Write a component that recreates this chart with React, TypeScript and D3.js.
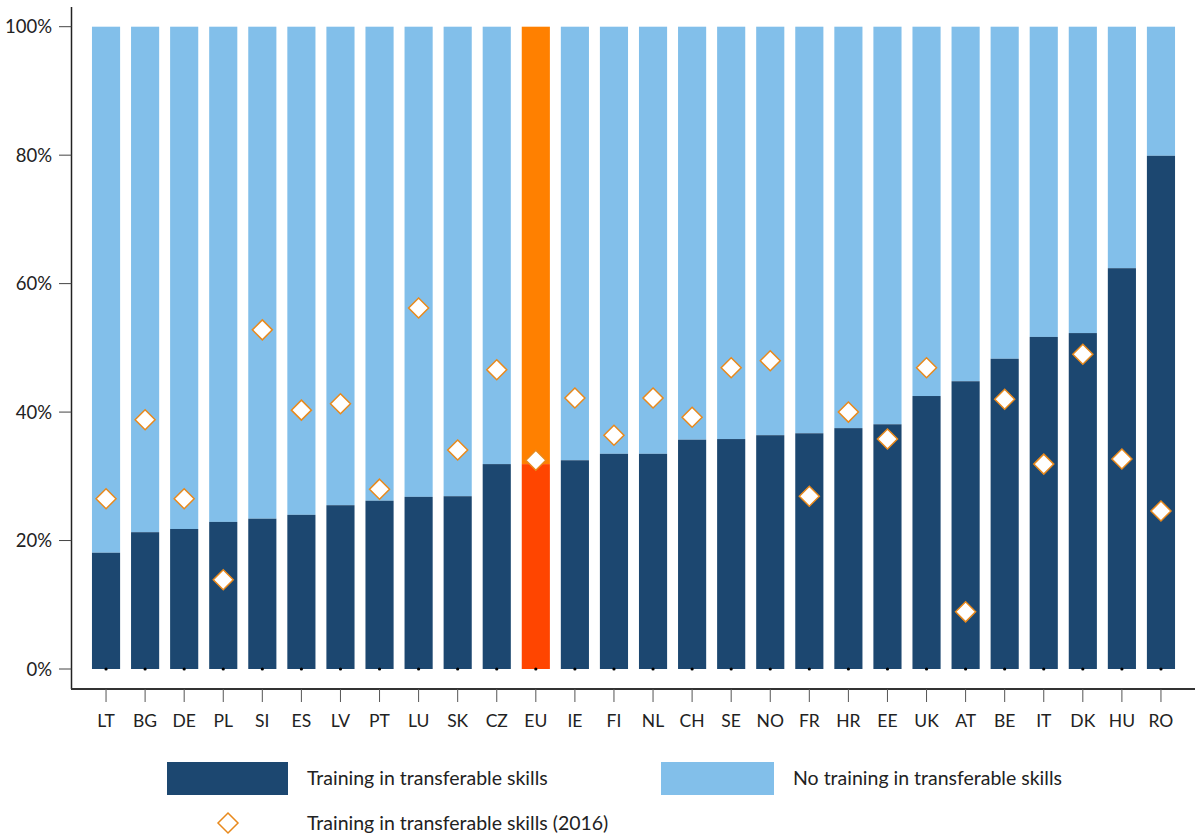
import React from "react";
import * as d3 from "d3";

const categories = ["LT","BG","DE","PL","SI","ES","LV","PT","LU","SK","CZ","EU","IE","FI","NL","CH","SE","NO","FR","HR","EE","UK","AT","BE","IT","DK","HU","RO"];
const trainingValues = [18.1,21.3,21.8,22.9,23.4,24.0,25.5,26.2,26.8,26.9,31.9,31.9,32.5,33.5,33.5,35.7,35.8,36.4,36.7,37.5,38.1,42.5,44.8,48.3,51.7,52.3,62.4,79.9];
const training2016 = [26.5,38.8,26.5,13.9,52.8,40.3,41.3,28.0,56.2,34.1,46.6,32.5,42.2,36.4,42.2,39.2,46.9,48.0,26.9,40.0,35.8,46.9,8.9,42.0,31.9,49.0,32.7,24.6];
const yTicks = [0,20,40,60,80,100];
const seriesNames = ["Training in transferable skills","No training in transferable skills","Training in transferable skills (2016)"];

const W = 1197, H = 838;
const DARK = "#1c4770";
const LIGHT = "#82bfea";
const EU_TOP = "#ff8000";
const EU_BOTTOM = "#ff4500";
const DIAMOND = "#e8891c";
const FONT = "Lato, 'DejaVu Sans', sans-serif";

export default function App() {
  const x = d3.scaleBand<string>().domain(categories).range([86.5, 1180.5]).paddingInner(0.28).paddingOuter(0.14);
  const y = d3.scaleLinear().domain([0, 100]).range([669, 26.7]);
  const bw = x.bandwidth();
  const cx = (c: string) => (x(c) as number) + bw / 2;
  const dsz = 10;
  const diamond = (px: number, py: number, s: number) => `M${px},${py - s}L${px + s},${py}L${px},${py + s}L${px - s},${py}Z`;

  return (
    <div style={{ position: "absolute", left: 0, top: 0 }}>
      <svg width={W} height={H} style={{ display: "block", fontFamily: FONT }}>
        <rect width={W} height={H} fill="#fff" />
        {categories.map((c, i) => {
          const isEU = c === "EU";
          return (
            <g key={c}>
              <rect x={x(c)} width={bw} y={y(100)} height={y(trainingValues[i]) - y(100)} fill={isEU ? EU_TOP : LIGHT} />
              <rect x={x(c)} width={bw} y={y(trainingValues[i])} height={y(0) - y(trainingValues[i])} fill={isEU ? EU_BOTTOM : DARK} />
            </g>
          );
        })}
        {categories.map((c) => (
          <circle key={"z" + c} cx={cx(c)} cy={y(0)} r={1.6} fill="#000" />
        ))}
        {categories.map((c, i) => (
          <path key={"d" + c} d={diamond(cx(c), y(training2016[i]), dsz)} fill="#fff" stroke={DIAMOND} strokeWidth={1.5} />
        ))}
        {/* y axis */}
        <line x1={71.5} x2={71.5} y1={7} y2={689} stroke="#222" strokeWidth={1.5} />
        {yTicks.map((t) => (
          <g key={"yt" + t}>
            <line x1={59} x2={71.5} y1={y(t)} y2={y(t)} stroke="#444" strokeWidth={1} />
            <text x={52} y={y(t)} dy="0.36em" textAnchor="end" fontSize={18.5} fill="#222">{t}%</text>
          </g>
        ))}
        {/* x axis */}
        <line x1={71} x2={1195} y1={689} y2={689} stroke="#333" strokeWidth={1.8} />
        {categories.map((c) => (
          <g key={"xt" + c}>
            <line x1={cx(c)} x2={cx(c)} y1={689} y2={702} stroke="#555" strokeWidth={1} />
            <text x={cx(c)} y={727} textAnchor="middle" fontSize={17.5} fill="#222">{c}</text>
          </g>
        ))}
        {/* legend */}
        <rect x={167} y={762} width={121} height={33} fill={DARK} />
        <text x={307} y={785} fontSize={19.5} fill="#222">{seriesNames[0]}</text>
        <rect x={661} y={762} width={113} height={33} fill={LIGHT} />
        <text x={793} y={785} fontSize={19.5} fill="#222">{seriesNames[1]}</text>
        <path d={diamond(228, 823, 10)} fill="#fff" stroke={DIAMOND} strokeWidth={1.5} />
        <text x={307} y={830} fontSize={19.5} fill="#222">{seriesNames[2]}</text>
      </svg>
    </div>
  );
}
